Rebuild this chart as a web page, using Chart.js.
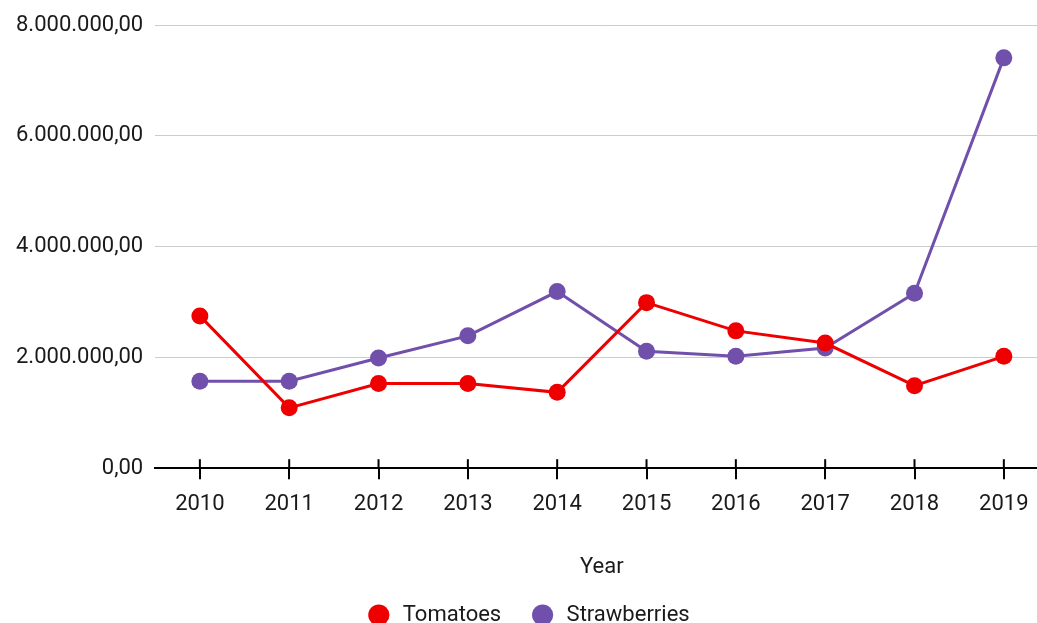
<!DOCTYPE html>
<html>
<head>
<meta charset="utf-8">
<script src="https://cdn.jsdelivr.net/npm/chart.js@4"></script>
<style>
  html, body { margin: 0; padding: 0; background: #fff; overflow: hidden; }
  #wrap { width: 1057px; height: 636px; position: relative; }
</style>
</head>
<body>
<div id="wrap"><canvas id="lineChart"></canvas></div>
<script>
const years = ['2010', '2011', '2012', '2013', '2014', '2015', '2016', '2017', '2018', '2019'];
const tomatoes = [2750000, 1090000, 1530000, 1530000, 1370000, 2990000, 2480000, 2260000, 1490000, 2020000];
const strawberries = [1570000, 1570000, 1990000, 2390000, 3190000, 2110000, 2020000, 2170000, 3160000, 7410000];

const numFmt = new Intl.NumberFormat('de-DE', { minimumFractionDigits: 2, maximumFractionDigits: 2 });

// little tick marks poking above the x axis line
const upperTicks = {
  id: 'upperTicks',
  afterDatasetsDraw(chart) {
    const x = chart.scales.x;
    const ctx = chart.ctx;
    ctx.save();
    ctx.strokeStyle = '#000';
    ctx.lineWidth = 2;
    x.ticks.forEach((t, i) => {
      const px = x.getPixelForTick(i);
      ctx.beginPath();
      ctx.moveTo(px, x.top - 9);
      ctx.lineTo(px, x.top);
      ctx.stroke();
    });
    ctx.restore();
  }
};

Chart.defaults.font.family = 'Roboto';
Chart.defaults.font.size = 22;
Chart.defaults.color = '#1a1a1a';

new Chart(document.getElementById('lineChart'), {
  type: 'line',
  data: {
    labels: years,
    datasets: [
      {
        label: 'Tomatoes',
        data: tomatoes,
        borderColor: '#ee0000',
        backgroundColor: '#ee0000',
        borderWidth: 3,
        pointRadius: 8.5,
        pointHoverRadius: 8.5,
        pointBorderWidth: 0,
        tension: 0
      },
      {
        label: 'Strawberries',
        data: strawberries,
        borderColor: '#7150ac',
        backgroundColor: '#7150ac',
        borderWidth: 3,
        pointRadius: 8.5,
        pointHoverRadius: 8.5,
        pointBorderWidth: 0,
        tension: 0
      }
    ]
  },
  options: {
    responsive: true,
    maintainAspectRatio: false,
    animation: false,
    layout: { padding: { top: 19, left: 4, right: 0, bottom: 0 } },
    plugins: {
      tooltip: { enabled: false },
      legend: {
        position: 'bottom',
        labels: {
          usePointStyle: true,
          pointStyle: 'circle',
          boxWidth: 15,
          boxHeight: 15,
          padding: 23,
          // a bit more room around the legend text, like the original
          generateLabels: (chart) => {
            const items = Chart.defaults.plugins.legend.labels.generateLabels(chart);
            return items.map((item, i) => ({
              ...item,
              text: ' ' + item.text + (i < items.length - 1 ? '  ' : '')
            }));
          }
        }
      }
    },
    scales: {
      x: {
        offset: true,
        grid: { drawOnChartArea: false, color: '#000', lineWidth: 2, tickLength: 11, offset: false },
        border: { display: true, color: '#000', width: 2 },
        ticks: { padding: 12, maxRotation: 0 },
        title: { display: true, text: 'Year', padding: { top: 25, bottom: 0 } }
      },
      y: {
        min: 0,
        max: 8000000,
        grid: { color: '#cccccc', lineWidth: 1, drawTicks: false },
        border: { display: false },
        ticks: {
          stepSize: 2000000,
          padding: 12,
          callback: (v) => numFmt.format(v)
        }
      }
    }
  },
  plugins: [upperTicks]
});
</script>
</body>
</html>
